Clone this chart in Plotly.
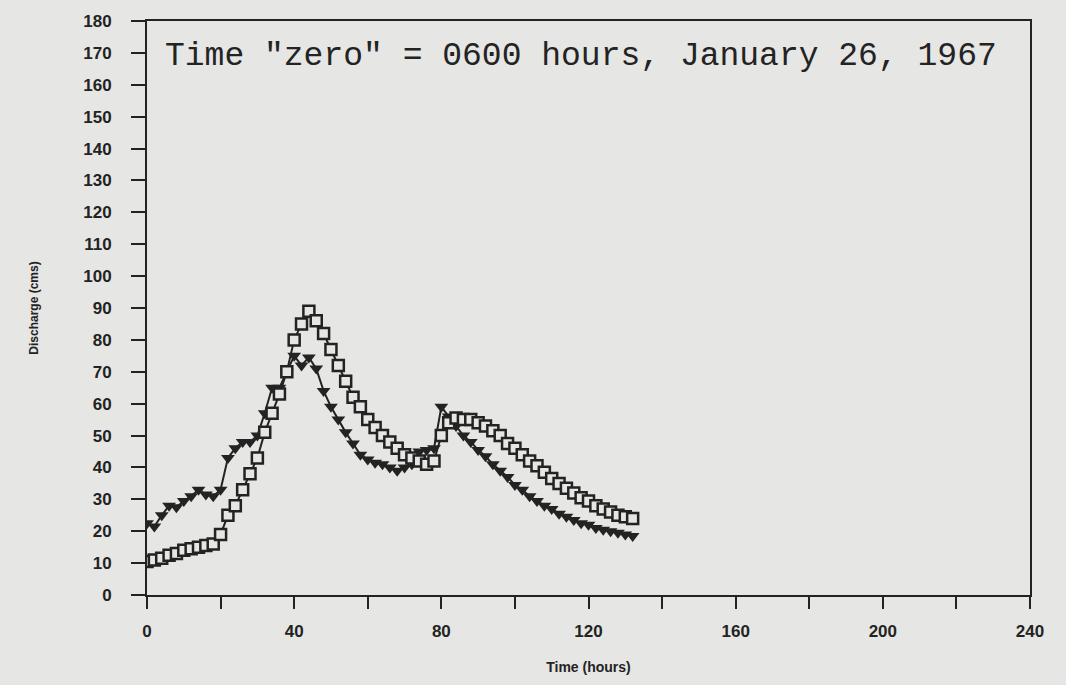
import plotly.graph_objects as go

hours = list(range(0, 134, 2))

squares = [10.5, 11, 11.5, 12.5, 13, 14, 14.5, 15, 15.5, 16,
           19, 25, 28, 33, 38, 43, 51, 57, 63, 70,
           80, 85, 89, 86, 82, 77, 72, 67, 62, 59,
           55, 52.5, 50, 48, 46, 44, 43, 42, 41, 42,
           50, 54, 55.5, 55, 55, 54, 53, 51.5, 50, 47.5,
           46, 44, 42, 40.5, 38.5, 36.5, 35, 33.5, 32, 30.5,
           29.5, 28, 27, 26, 25, 24.5, 24]

triangles = [22.5, 21.5, 25, 28, 27.5, 29.5, 31, 33, 31.5, 31,
             33, 43, 46, 48, 48, 50, 57, 65, 65, 70,
             75, 72, 74.5, 71, 64, 59, 55, 51, 47.5, 44,
             42.5, 41.5, 41, 40, 39, 40, 41, 45, 45.5, 46,
             59, 56, 53, 50, 48, 45.5, 43.5, 41, 39, 37,
             34.5, 33, 31, 29.5, 28, 27, 25.5, 24.5, 23.5, 22.5,
             22, 21, 20.5, 20, 19.5, 19, 18.5]

x_tickvals = list(range(0, 260, 20))
x_ticktext = [str(v) if v % 40 == 0 else "" for v in x_tickvals]
y_tickvals = list(range(0, 190, 10))

annotation_text = 'Time "zero" = 0600 hours, January 26, 1967'

ink = "#232323"
bg = "#e6e6e4"

fig = go.Figure()
fig.add_trace(go.Scatter(
    x=hours, y=triangles, mode="lines+markers",
    line=dict(color=ink, width=2),
    marker=dict(symbol="triangle-down", size=12, color=ink),
    showlegend=False,
))
fig.add_trace(go.Scatter(
    x=hours, y=squares, mode="lines+markers",
    line=dict(color=ink, width=2),
    marker=dict(symbol="square", size=11, color=bg, line=dict(color=ink, width=2.5)),
    showlegend=False,
))

fig.add_annotation(
    x=4.3, y=168.8, xref="x", yref="y", text=annotation_text,
    showarrow=False, xanchor="left", yanchor="middle",
    font=dict(family="Liberation Mono", size=33, color=ink),
)

tickfont = dict(family="Liberation Sans", size=17, color=ink, weight="bold")
xtitlefont = dict(family="Liberation Sans", size=14, color=ink, weight="bold")
ytitlefont = dict(family="Liberation Sans", size=12, color=ink, weight="bold")

fig.update_xaxes(
    range=[0, 240], tickvals=x_tickvals, ticktext=x_ticktext,
    ticks="outside", ticklen=12, tickwidth=2, tickcolor=ink,
    showline=True, linewidth=2, linecolor=ink, mirror=True,
    showgrid=False, zeroline=False, tickfont=tickfont,
    ticklabelstandoff=8,
    title=dict(text="Time (hours)", font=xtitlefont, standoff=22),
)
fig.update_yaxes(
    range=[0, 180], tickvals=y_tickvals,
    ticks="outside", ticklen=14, tickwidth=2, tickcolor=ink,
    showline=True, linewidth=2, linecolor=ink, mirror=True,
    showgrid=False, zeroline=False, tickfont=tickfont,
    ticklabelstandoff=16,
    title=dict(text="Discharge (cms)", font=ytitlefont, standoff=42),
)

fig.update_layout(
    width=1066, height=685,
    margin=dict(l=147, r=36, t=14, b=84),
    paper_bgcolor=bg, plot_bgcolor=bg,
)

fig.write_html(
    "out.html",
    config={"displayModeBar": False},
    post_script="document.body.style.margin='0';document.body.style.background='%s';" % bg,
)
